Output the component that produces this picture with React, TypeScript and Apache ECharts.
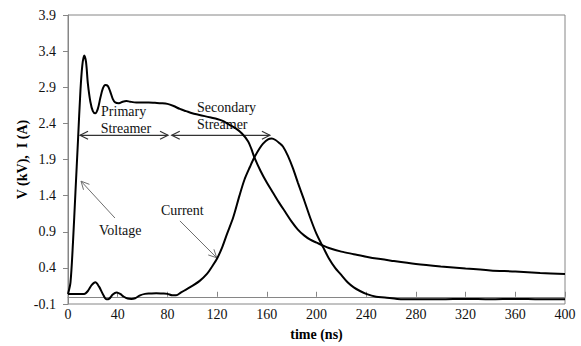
import React, { useEffect, useRef } from "react";
import * as echarts from "echarts";

// Axis ticks
const xTicks = [0, 40, 80, 120, 160, 200, 240, 280, 320, 360, 400];
const yTicks = [-0.1, 0.4, 0.9, 1.4, 1.9, 2.4, 2.9, 3.4, 3.9];

// Voltage (kV) vs time (ns)
const voltageTime = [0, 2, 4, 6, 8, 10, 11.5, 13, 14.5, 16, 18, 20, 22, 24, 26, 28, 30, 32, 34, 36, 38, 41, 44, 47, 50, 55, 60, 65, 70, 75, 80, 85, 90, 95, 100, 105, 110, 115, 120, 125, 130, 135, 140, 145, 147.5, 150, 155, 160, 165, 170, 175, 180, 185, 190, 195, 200, 205, 210, 220, 230, 240, 250, 260, 280, 300, 320, 340, 360, 380, 400];
const voltageValues = [0.04, 0.2, 0.75, 1.45, 2.15, 2.85, 3.2, 3.34, 3.25, 2.95, 2.7, 2.57, 2.54, 2.6, 2.75, 2.88, 2.93, 2.92, 2.84, 2.74, 2.69, 2.68, 2.7, 2.71, 2.7, 2.69, 2.69, 2.69, 2.685, 2.68, 2.67, 2.64, 2.6, 2.57, 2.54, 2.52, 2.5, 2.48, 2.46, 2.43, 2.38, 2.33, 2.26, 2.15, 2.05, 1.93, 1.74, 1.58, 1.44, 1.3, 1.17, 1.04, 0.93, 0.85, 0.79, 0.75, 0.71, 0.675, 0.625, 0.59, 0.555, 0.525, 0.5, 0.455, 0.42, 0.39, 0.365, 0.35, 0.33, 0.315];

// Current (A) vs time (ns)
const currentTime = [0, 5, 10, 13, 16, 19, 22, 25, 28, 31, 33, 36, 39, 42, 45, 48, 51, 54, 58, 62, 66, 71, 76, 80, 84, 87, 91, 95, 100, 106, 112, 116, 120, 124, 128, 133, 138, 142, 146.5, 150, 154, 157, 161, 164, 167, 170, 173, 177, 181, 185, 190, 195, 200, 205.5, 210, 215, 219, 225, 230, 235, 240, 248, 255, 265, 280, 300, 320, 340, 360, 380, 400];
const currentValues = [0.04, 0.04, 0.04, 0.04, 0.08, 0.16, 0.2, 0.14, 0.04, -0.035, -0.03, 0.03, 0.06, 0.04, 0.0, -0.025, -0.03, -0.02, 0.02, 0.04, 0.045, 0.05, 0.045, 0.04, 0.02, 0.02, 0.06, 0.1, 0.15, 0.22, 0.32, 0.42, 0.53, 0.68, 0.87, 1.1, 1.4, 1.62, 1.8, 1.93, 2.05, 2.12, 2.18, 2.19, 2.17, 2.13, 2.08, 1.95, 1.78, 1.58, 1.34, 1.09, 0.87, 0.68, 0.53, 0.4, 0.32, 0.2, 0.13, 0.08, 0.04, 0.0, -0.01, -0.03, -0.035, -0.035, -0.03, -0.035, -0.03, -0.035, -0.035];

// Annotations (data coordinates: [time, value])
const streamerArrows = [
  { from: [9.7, 2.235], to: [80.5, 2.235] },
  { from: [83.5, 2.235], to: [162.5, 2.235] },
];
const pointerArrows = [
  { from: [37.8, 1.09], to: [10.5, 1.6] },
  { from: [90.1, 1.05], to: [119.7, 0.54] },
];
const annotationTexts = [
  { text: "Primary", at: [26.6, 2.571] },
  { text: "Streamer", at: [26.3, 2.332] },
  { text: "Secondary", at: [103.8, 2.626] },
  { text: "Streamer", at: [103.8, 2.379] },
  { text: "Voltage", at: [24.9, 0.914] },
  { text: "Current", at: [74.8, 1.188] },
];

const FONT = "'Liberation Serif', 'Times New Roman', serif";

function zip(xs: number[], ys: number[]) {
  return xs.map((x, i) => [x, ys[i]]);
}

function chevron(tip: number[], tail: number[], len: number, half: number) {
  const dx = tail[0] - tip[0];
  const dy = tail[1] - tip[1];
  const d = Math.hypot(dx, dy) || 1;
  const ux = dx / d, uy = dy / d;
  const px = -uy, py = ux;
  return [
    [tip[0] + ux * len + px * half, tip[1] + uy * len + py * half],
    [tip[0], tip[1]],
    [tip[0] + ux * len - px * half, tip[1] + uy * len - py * half],
  ];
}

export default function App() {
  const ref = useRef<HTMLDivElement>(null);
  useEffect(() => {
    if (!ref.current) return;
    const chart = echarts.init(ref.current, null, { renderer: "svg" });
    const axisColor = "#868686";
    chart.setOption({
      animation: false,
      grid: {
        left: 68, right: 16, top: 15, bottom: 39,
        show: true, borderColor: axisColor, borderWidth: 1, backgroundColor: "transparent",
      },
      xAxis: {
        type: "value", min: 0, max: 400, interval: 40,
        name: "time (ns)", nameLocation: "middle", nameGap: 23, nameMoveOverlap: false,
        nameTextStyle: { fontFamily: FONT, fontSize: 14, fontWeight: "bold", color: "#000" },
        axisLine: { show: true, lineStyle: { color: axisColor, width: 1 } },
        axisTick: { show: true, inside: true, length: 5, lineStyle: { color: axisColor } },
        axisLabel: {
          margin: 3, fontFamily: FONT, fontSize: 14, color: "#111",
          customValues: xTicks, formatter: (v: number) => String(Math.round(v)),
        },
        splitLine: { show: false },
      },
      yAxis: {
        type: "value", min: -0.1, max: 3.9, interval: 0.5,
        name: "V (kV),  I (A)", nameLocation: "middle", nameGap: 39, nameMoveOverlap: false,
        nameTextStyle: { fontFamily: FONT, fontSize: 14, fontWeight: "bold", color: "#000" },
        axisLine: { show: true, lineStyle: { color: axisColor, width: 1 } },
        axisTick: { show: true, inside: false, length: 5, customValues: yTicks, lineStyle: { color: axisColor } },
        axisLabel: {
          margin: 12, fontFamily: FONT, fontSize: 14, color: "#111",
          customValues: yTicks, formatter: (v: number) => v.toFixed(1),
        },
        splitLine: { show: false },
      },
      series: [
        {
          name: "Voltage", type: "line", data: zip(voltageTime, voltageValues),
          showSymbol: false, smooth: 0.3, silent: true,
          lineStyle: { color: "#000", width: 2 },
        },
        {
          name: "Current", type: "line", data: zip(currentTime, currentValues),
          showSymbol: false, smooth: 0.3, silent: true,
          lineStyle: { color: "#000", width: 2 },
        },
      ],
    });

    const px = (p: number[]) => chart.convertToPixel({ xAxisIndex: 0, yAxisIndex: 0 }, p) as number[];
    const graphics: any[] = [];
    streamerArrows.forEach((a) => {
      const A = px(a.from), B = px(a.to);
      const st = { stroke: "#333", lineWidth: 1.2, fill: null };
      graphics.push({ type: "line", shape: { x1: A[0], y1: A[1], x2: B[0], y2: B[1] }, style: st, silent: true });
      graphics.push({ type: "polyline", shape: { points: chevron(A, B, 8, 4) }, style: st, silent: true });
      graphics.push({ type: "polyline", shape: { points: chevron(B, A, 8, 4) }, style: st, silent: true });
    });
    pointerArrows.forEach((a) => {
      const A = px(a.from), B = px(a.to);
      const st = { stroke: "#6e6e6e", lineWidth: 1, fill: null };
      graphics.push({ type: "line", shape: { x1: A[0], y1: A[1], x2: B[0], y2: B[1] }, style: st, silent: true });
      graphics.push({ type: "polyline", shape: { points: chevron(B, A, 8, 4) }, style: st, silent: true });
    });
    annotationTexts.forEach((t) => {
      const P = px(t.at);
      graphics.push({
        type: "text", x: P[0], y: P[1], silent: true,
        style: { text: t.text, fontFamily: FONT, fontSize: 14, fill: "#111", align: "left", verticalAlign: "middle" },
      });
    });
    chart.setOption({ graphic: graphics });

    return () => chart.dispose();
  }, []);
  return <div ref={ref} style={{ position: "absolute", left: 0, top: 0, width: 581, height: 346 }} />;
}
